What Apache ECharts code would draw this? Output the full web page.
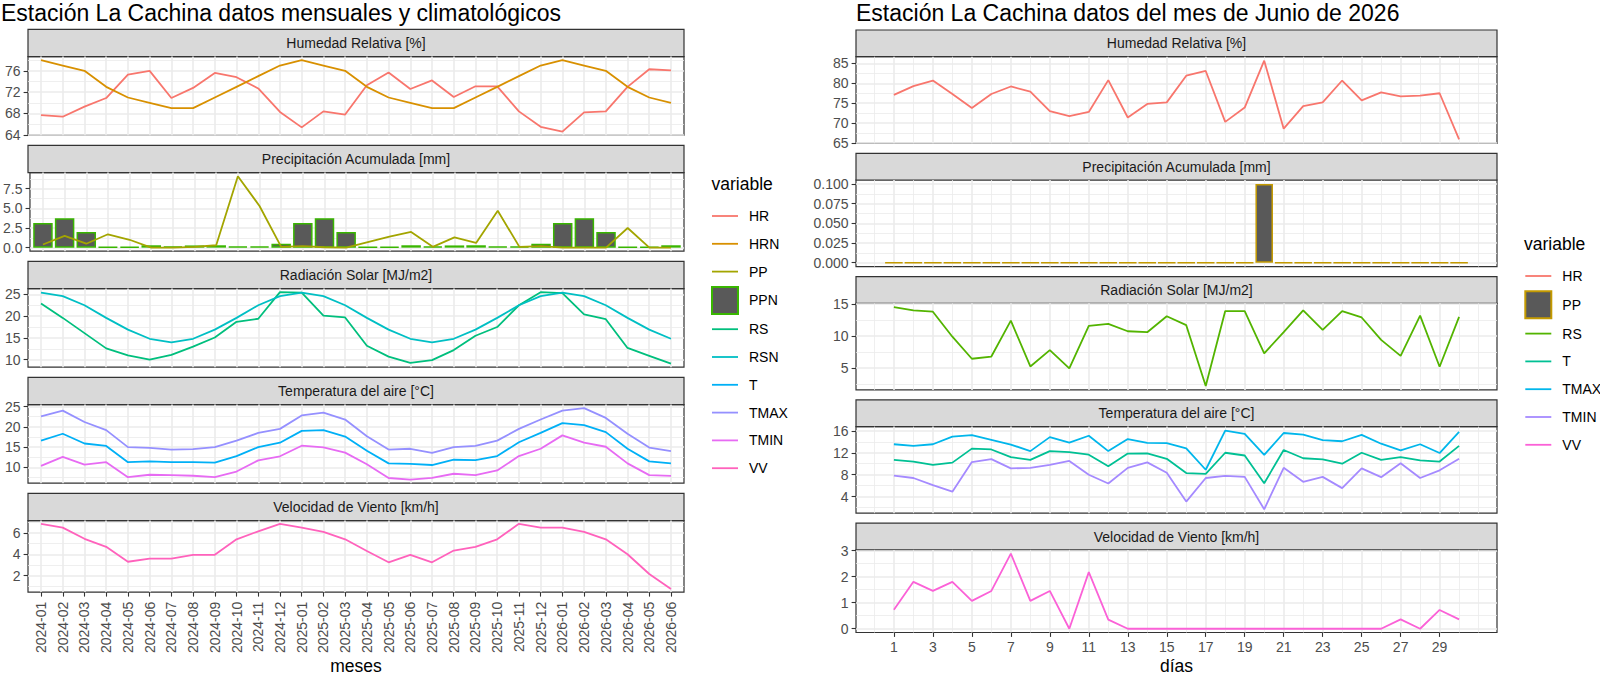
<!DOCTYPE html>
<html>
<head>
<meta charset="utf-8">
<script src="https://cdn.jsdelivr.net/npm/echarts@6/dist/echarts.min.js"></script>
<style>html,body{margin:0;padding:0;background:#fff}#c{width:1600px;height:676px}</style>
</head>
<body>
<div id="c"></div>
<script>
// ---------- monthly / climatological data (left) ----------
const meses = ['2024-01','2024-02','2024-03','2024-04','2024-05','2024-06','2024-07','2024-08','2024-09','2024-10','2024-11','2024-12',
               '2025-01','2025-02','2025-03','2025-04','2025-05','2025-06','2025-07','2025-08','2025-09','2025-10','2025-11','2025-12',
               '2026-01','2026-02','2026-03','2026-04','2026-05','2026-06'];
const HR   = [67.7,67.4,69.3,70.9,75.3,76.0,70.9,72.8,75.6,74.8,72.7,68.3,65.4,68.4,67.8,73.3,75.7,72.6,74.2,71.1,73.1,73.1,68.4,65.5,64.6,68.2,68.4,73.0,76.3,76.1];
const HRN  = [78,77,76,73,71,70,69,69,71,73,75,77,78,77,76,73,71,70,69,69,71,73,75,77,78,77,76,73,71,70];
const PP   = [0.4,1.5,0.5,1.7,1.0,0.0,0.0,0.1,0.3,9.1,5.3,0.1,0.2,0.05,0.0,0.7,1.4,2.0,0.1,1.3,0.6,4.7,0.1,0.2,0.0,0.0,0.0,2.5,0.0,0.0];
const PPN  = [3.15,3.75,2.0,0.07,0.12,0.3,0.15,0.28,0.3,0.15,0.15,0.5,3.15,3.75,2.0,0.07,0.12,0.3,0.15,0.28,0.3,0.15,0.15,0.5,3.15,3.75,2.0,0.07,0.12,0.3];
const RS   = [22.9,19.6,16.1,12.6,11.0,10.0,11.1,13.0,15.1,18.7,19.4,25.5,25.4,20.1,19.7,13.2,10.7,9.25,9.9,12.2,15.5,17.5,22.5,25.5,25.3,20.4,19.3,12.7,10.9,9.1];
const RSN  = [25.4,24.6,22.5,19.6,16.9,14.8,14.0,14.8,16.9,19.6,22.5,24.6,25.4,24.6,22.5,19.6,16.9,14.8,14.0,14.8,16.9,19.6,22.5,24.6,25.4,24.6,22.5,19.6,16.9,14.8];
const T    = [16.6,18.3,15.9,15.3,11.3,11.5,11.3,11.3,11.2,12.8,15.0,16.1,19.0,19.2,17.6,14.1,11.0,10.9,10.6,11.9,11.8,12.8,16.2,18.5,20.9,20.4,18.7,14.6,11.5,11.0];
const TMAX = [22.6,24.0,21.2,19.2,15.0,14.8,14.4,14.5,15.0,16.6,18.5,19.5,22.8,23.5,21.8,17.7,14.4,14.6,13.6,15.0,15.3,16.6,19.5,21.8,24.0,24.6,22.2,18.3,14.9,14.0];
const TMIN = [10.4,12.6,10.7,11.3,7.6,8.2,8.1,7.95,7.6,9.0,11.75,12.75,15.35,14.95,13.65,10.8,7.4,7.0,7.45,8.45,8.1,9.25,12.8,14.6,17.9,16.1,15.1,11.0,8.1,7.9];
const VV   = [6.85,6.5,5.45,4.7,3.3,3.6,3.6,3.95,3.95,5.4,6.15,6.85,6.5,6.1,5.4,4.3,3.25,3.95,3.25,4.35,4.7,5.4,6.85,6.5,6.5,6.1,5.4,4.0,2.15,0.75];

// ---------- daily data, June 2026 (right) ----------
const dias   = [1,2,3,4,5,6,7,8,9,10,11,12,13,14,15,16,17,18,19,20,21,22,23,24,25,26,27,28,29,30];
const HR_d   = [77.1,79.3,80.7,77.3,73.8,77.3,79.2,77.9,73.0,71.75,72.8,80.8,71.4,74.8,75.2,81.9,83.1,70.3,73.9,85.7,68.6,74.25,75.2,80.7,75.7,77.7,76.7,76.9,77.5,65.9];
const PP_d   = [0,0,0,0,0,0,0,0,0,0,0,0,0,0,0,0,0,0,0,0.1,0,0,0,0,0,0,0,0,0,0];
const RS_d   = [14.5,14.0,13.8,9.9,6.45,6.8,12.4,5.25,7.8,4.95,11.6,11.9,10.75,10.6,13.1,11.7,2.2,13.9,13.9,7.3,10.6,14.0,10.95,13.9,12.9,9.4,6.9,13.2,5.2,13.0];
const T_d    = [10.7,10.4,9.8,10.2,12.75,12.6,11.2,10.7,12.3,12.1,11.65,9.55,11.85,11.9,10.9,8.3,8.15,12.0,11.5,6.45,12.5,11.0,10.8,10.0,12.0,10.7,11.2,10.6,10.4,13.25];
const TMAX_d = [13.55,13.25,13.55,14.95,15.2,14.35,13.5,12.3,14.85,13.85,15.1,12.3,14.5,13.8,13.75,12.8,8.9,16.05,15.45,11.6,15.6,15.3,14.3,14.1,15.25,13.65,12.45,13.55,11.95,15.8];
const TMIN_d = [7.85,7.4,6.1,4.9,10.3,10.85,9.15,9.25,9.8,10.5,8.0,6.4,9.25,10.25,8.35,3.1,7.4,7.8,7.6,1.7,9.25,6.7,7.6,5.55,9.15,7.55,10.1,7.4,8.8,10.9];
const VV_d   = [0.73,1.8,1.45,1.8,1.07,1.45,2.88,1.07,1.45,0,2.17,0.35,0,0,0,0,0,0,0,0,0,0,0,0,0,0,0.36,0,0.72,0.36];

// ---------- tick values ----------
const tickHR_m = [64,68,72,76];
const tickPP_m = [0,2.5,5,7.5];
const tickRS_m = [10,15,20,25];
const tickT_m  = [10,15,20,25];
const tickVV_m = [2,4,6];
const tickHR_d = [65,70,75,80,85];
const tickPP_d = [0,0.025,0.05,0.075,0.1];
const tickRS_d = [5,10,15];
const tickT_d  = [4,8,12,16];
const tickVV_d = [0,1,2,3];
const tickDias = [1,3,5,7,9,11,13,15,17,19,21,23,25,27,29];

const stripNames = ['Humedad Relativa [%]','Precipitación Acumulada [mm]','Radiación Solar [MJ/m2]','Temperatura del aire [°C]','Velocidad de Viento [km/h]'];

// ---------- layout / style ----------
const FONT = '"Liberation Sans", Arial, Helvetica, sans-serif';
const LEFT  = {x0:28,  x1:684,  top:29.3, step:116,   stripH:27.3, panelH:78.6};
const RIGHT = {x0:856, x1:1497, top:30,   step:123.3, stripH:26.7, panelH:86.6};
const MAJ = {show:true, lineStyle:{color:'#EBEBEB', width:1.6}};
const MIN = {show:true, lineStyle:{color:'#EBEBEB', width:0.8}};
const LINE_ICON = 'path://M0,0M26,27M0,12.6L26,12.6L26,14.4L0,14.4Z';

function minorOf(maj, lo, hi){
  const s = maj[1]-maj[0];
  const ext = [maj[0]-s].concat(maj, [maj[maj.length-1]+s]);
  const out = [ext[0], ext[ext.length-1]];
  for (let i=0;i<ext.length-1;i++) out.push((ext[i]+ext[i+1])/2);
  return out.filter(v => v>=lo && v<=hi);
}

const grids=[], xAxes=[], yAxes=[], series=[], graphics=[];

function panel(side, k, xs, xLim, xMaj, xMin, ys, yMaj, dec, bottom){
  const g = grids.length;
  const sTop = side.top + k*side.step;
  const pTop = sTop + side.stripH;
  const W = side.x1 - side.x0;
  grids.push({left:side.x0, top:pTop, width:W, height:side.panelH, show:true,
              borderColor:'#333333', borderWidth:1.2, backgroundColor:'rgba(0,0,0,0)'});
  graphics.push({type:'rect', shape:{x:side.x0, y:sTop, width:W, height:side.stripH},
                 style:{fill:'#D9D9D9', stroke:'#333333', lineWidth:1.2}, silent:true});
  graphics.push({type:'text', x:side.x0+W/2, y:sTop+side.stripH/2,
                 style:{text:stripNames[k], fontSize:14, fontFamily:FONT, fill:'#1A1A1A', align:'center', verticalAlign:'middle'}, silent:true});
  const vals=[];
  ys.forEach(s => s.data.forEach(v => vals.push(v)));
  if (ys.some(s => s.type==='bar')) vals.push(0);
  const lo0 = Math.min.apply(null, vals), hi0 = Math.max.apply(null, vals), r = hi0-lo0;
  const yLo = lo0-0.05*r, yHi = hi0+0.05*r;
  const yi = yAxes.length;
  yAxes.push({type:'value', gridIndex:g, min:yLo, max:yHi, position:'left',
    axisLine:{show:false, onZero:false},
    axisTick:{show:true, customValues:yMaj, length:4.4, lineStyle:{color:'#333333', width:1.1}},
    axisLabel:{customValues:yMaj, formatter:v => Number(v).toFixed(dec), color:'#4D4D4D', fontSize:14, fontFamily:FONT, margin:7.5},
    splitLine:MAJ});
  yAxes.push({type:'value', gridIndex:g, min:yLo, max:yHi, position:'right',
    axisLine:{show:false, onZero:false}, axisTick:{show:false, customValues:minorOf(yMaj,yLo,yHi)},
    axisLabel:{show:false}, splitLine:MIN});
  const xi = xAxes.length;
  const bx = bottom || {};
  xAxes.push({type:'value', gridIndex:g, min:xLim[0], max:xLim[1], position:'bottom',
    axisLine:{show:false, onZero:false},
    axisTick:{show:!!bottom, customValues:xMaj, length:4.4, lineStyle:{color:'#333333', width:1.1}},
    axisLabel:{show:!!bottom, customValues:xMaj, formatter:bx.fmt, rotate:bx.rotate||0, margin:bx.margin||7,
               color:'#4D4D4D', fontSize:14, fontFamily:FONT},
    name:bx.name||'', nameLocation:'middle', nameGap:bx.nameGap||0,
    nameTextStyle:{fontSize:17.5, color:'#000', fontFamily:FONT},
    splitLine:MAJ});
  if (xMin) {
    xAxes.push({type:'value', gridIndex:g, min:xLim[0], max:xLim[1], position:'top',
      axisLine:{show:false, onZero:false}, axisTick:{show:false, customValues:xMin},
      axisLabel:{show:false}, splitLine:MIN});
  }
  ys.forEach(s => {
    const d = xs.map((x,i) => [x, s.data[i]]);
    if (s.type==='bar') {
      series.push({type:'bar', name:s.name, xAxisIndex:xi, yAxisIndex:yi, data:d, barWidth:'90%',
        itemStyle:{color:'#595959', borderColor:s.color, borderWidth:1.5}, z:2, animation:false, silent:true});
    } else {
      series.push({type:'line', name:s.name, xAxisIndex:xi, yAxisIndex:yi, data:d, symbol:'none',
        lineStyle:{color:s.color, width:1.8}, itemStyle:{color:s.color}, z:3, animation:false, silent:true});
    }
  });
}

// ---- left plot ----
const mIdx = meses.map((m,i) => i);
const mLim = [mIdx[0]-0.6, mIdx[mIdx.length-1]+0.6];
panel(LEFT,0,mIdx,mLim,mIdx,null,[{name:'HR',data:HR,color:'#F8766D'},{name:'HRN',data:HRN,color:'#D89000'}],tickHR_m,0);
panel(LEFT,1,mIdx,mLim,mIdx,null,[{name:'PPN',data:PPN,color:'#39B600',type:'bar'},{name:'PP',data:PP,color:'#A3A500'}],tickPP_m,1);
panel(LEFT,2,mIdx,mLim,mIdx,null,[{name:'RS',data:RS,color:'#00BF7D'},{name:'RSN',data:RSN,color:'#00BFC4'}],tickRS_m,0);
panel(LEFT,3,mIdx,mLim,mIdx,null,[{name:'T',data:T,color:'#00B0F6'},{name:'TMAX',data:TMAX,color:'#9590FF'},{name:'TMIN',data:TMIN,color:'#E76BF3'}],tickT_m,0);
panel(LEFT,4,mIdx,mLim,mIdx,null,[{name:'VV',data:VV,color:'#FF62BC'}],tickVV_m,0,
      {fmt:v => meses[Math.round(v)], rotate:90, margin:9.5, name:'meses', nameGap:62});

// ---- right plot ----
const dLo = dias[0]-0.45, dHi = dias[dias.length-1]+0.45, dR = dHi-dLo;
const dLim = [dLo-0.05*dR, dHi+0.05*dR];
const dMin = minorOf(tickDias, dLim[0], dLim[1]);
const P = 'jun_';
panel(RIGHT,0,dias,dLim,tickDias,dMin,[{name:P+'HR',data:HR_d,color:'#F8766D'}],tickHR_d,0);
panel(RIGHT,1,dias,dLim,tickDias,dMin,[{name:P+'PP',data:PP_d,color:'#C49A00',type:'bar'}],tickPP_d,3);
panel(RIGHT,2,dias,dLim,tickDias,dMin,[{name:P+'RS',data:RS_d,color:'#53B400'}],tickRS_d,0);
panel(RIGHT,3,dias,dLim,tickDias,dMin,[{name:P+'T',data:T_d,color:'#00C094'},{name:P+'TMAX',data:TMAX_d,color:'#00B6EB'},{name:P+'TMIN',data:TMIN_d,color:'#A58AFF'}],tickT_d,0);
panel(RIGHT,4,dias,dLim,tickDias,dMin,[{name:P+'VV',data:VV_d,color:'#FB61D7'}],tickVV_d,0,
      {fmt:v => String(Math.round(v)), margin:7, name:'días', nameGap:24.5});

const lineItem = n => ({name:n, icon:LINE_ICON, itemStyle:{borderWidth:0}});
const barItem  = n => ({name:n, icon:'rect'});
const legendBase = {orient:'vertical', padding:0, itemWidth:26, itemHeight:27, itemGap:0.8, selectedMode:false,
  textStyle:{fontSize:14, color:'#000', fontFamily:FONT, padding:[0,0,0,6]}};

const option = {
  backgroundColor:'#ffffff',
  animation:false,
  title:[
    {text:'Estación La Cachina datos mensuales y climatológicos', left:1, top:1, padding:0,
     textStyle:{fontSize:23, fontWeight:'normal', color:'#000', fontFamily:FONT}},
    {text:'Estación La Cachina datos del mes de Junio de 2026', left:856, top:1, padding:0,
     textStyle:{fontSize:23, fontWeight:'normal', color:'#000', fontFamily:FONT}},
    {text:'variable', left:711.5, top:175, padding:0, textStyle:{fontSize:17.5, fontWeight:'normal', color:'#000', fontFamily:FONT}},
    {text:'variable', left:1524, top:235, padding:0, textStyle:{fontSize:17.5, fontWeight:'normal', color:'#000', fontFamily:FONT}}
  ],
  legend:[
    Object.assign({}, legendBase, {left:711, top:202.5,
      data:[lineItem('HR'),lineItem('HRN'),lineItem('PP'),barItem('PPN'),lineItem('RS'),lineItem('RSN'),lineItem('T'),lineItem('TMAX'),lineItem('TMIN'),lineItem('VV')]}),
    Object.assign({}, legendBase, {left:1524.3, top:262.5, formatter:n => n.replace(P,''),
      data:[lineItem(P+'HR'),barItem(P+'PP'),lineItem(P+'RS'),lineItem(P+'T'),lineItem(P+'TMAX'),lineItem(P+'TMIN'),lineItem(P+'VV')]})
  ],
  grid:grids, xAxis:xAxes, yAxis:yAxes, series:series,
  graphic:{elements:graphics}
};

const chart = echarts.init(document.getElementById('c'), null, {renderer:'svg', width:1600, height:676});
chart.setOption(option);
</script>
</body>
</html>
